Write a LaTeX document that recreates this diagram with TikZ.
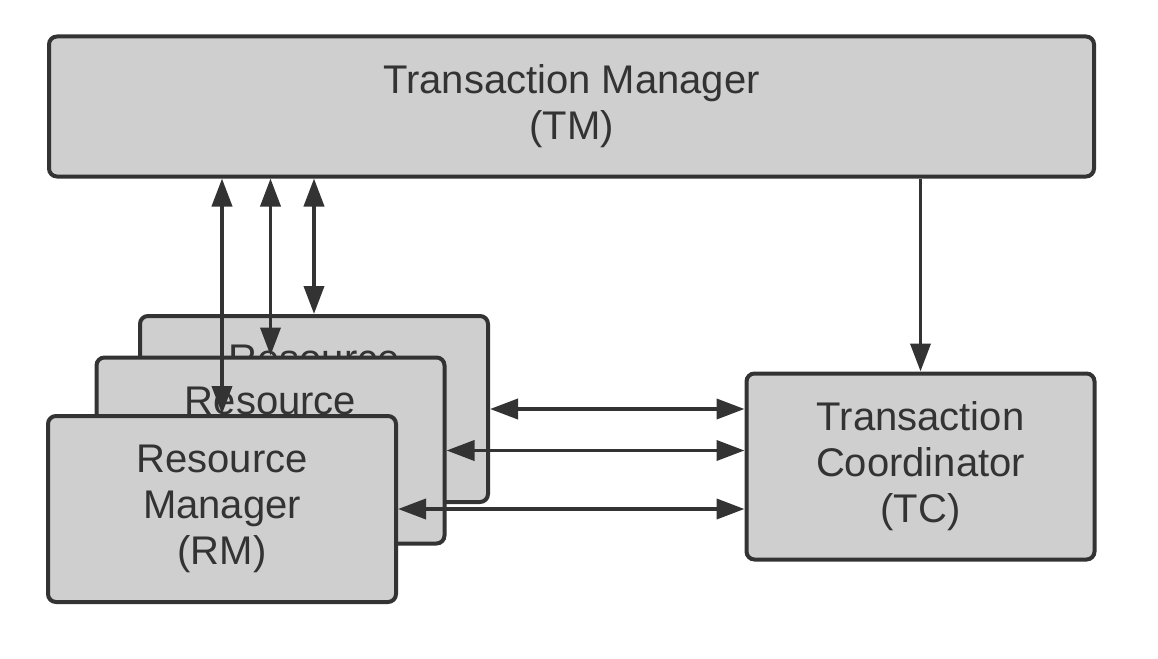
\documentclass[tikz,border=0pt]{standalone}
\usepackage{fontspec}
\setmainfont{Liberation Sans}
\usetikzlibrary{arrows.meta}
\definecolor{boxfill}{HTML}{CFCFCF}
\definecolor{ink}{HTML}{333333}
\begin{document}
\begin{tikzpicture}[x=1pt,y=-1pt,
  box/.style={draw=ink, fill=boxfill, line width=4pt, rounded corners=8pt,
    minimum width=348pt, minimum height=186pt, align=center, text=ink,
    inner sep=0pt, font=\fontsize{40}{46}\selectfont},
  link/.style={draw=ink, line width=3.8pt, {Triangle[length=28pt,width=20pt]}-{Triangle[length=28pt,width=20pt]}},
  onelink/.style={draw=ink, line width=3.8pt, -{Triangle[length=28pt,width=20pt]}}
]
\useasboundingbox (0,0) rectangle (1158,658);
\fill[white] (0,0) rectangle (1158,658);

\node[box] (back) at (314,409) {Resource\\Manager\\(RM)};
\node[box] (mid) at (270.5,450.5) {Resource\\Manager\\(RM)};
\node[box] (front) at (222,509) {Resource\\Manager\\(RM)};
\node[box] (tc) at (920.5,466.5) {Transaction\\Coordinator\\(TC)};
\node[box, minimum width=1045pt, minimum height=140pt] (tm) at (571.5,106.5) {Transaction Manager\\(TM)};

\draw[link] (front.north) -- (front.north |- tm.south);
\draw[link] (mid.north) -- (mid.north |- tm.south);
\draw[link] (back.north) -- (back.north |- tm.south);
\draw[onelink] (tc.north |- tm.south) -- (tc.north);

\draw[link] (back.east) -- (back.east -| tc.west);
\draw[link] (mid.east) -- (mid.east -| tc.west);
\draw[link] (front.east) -- (front.east -| tc.west);
\end{tikzpicture}
\end{document}
